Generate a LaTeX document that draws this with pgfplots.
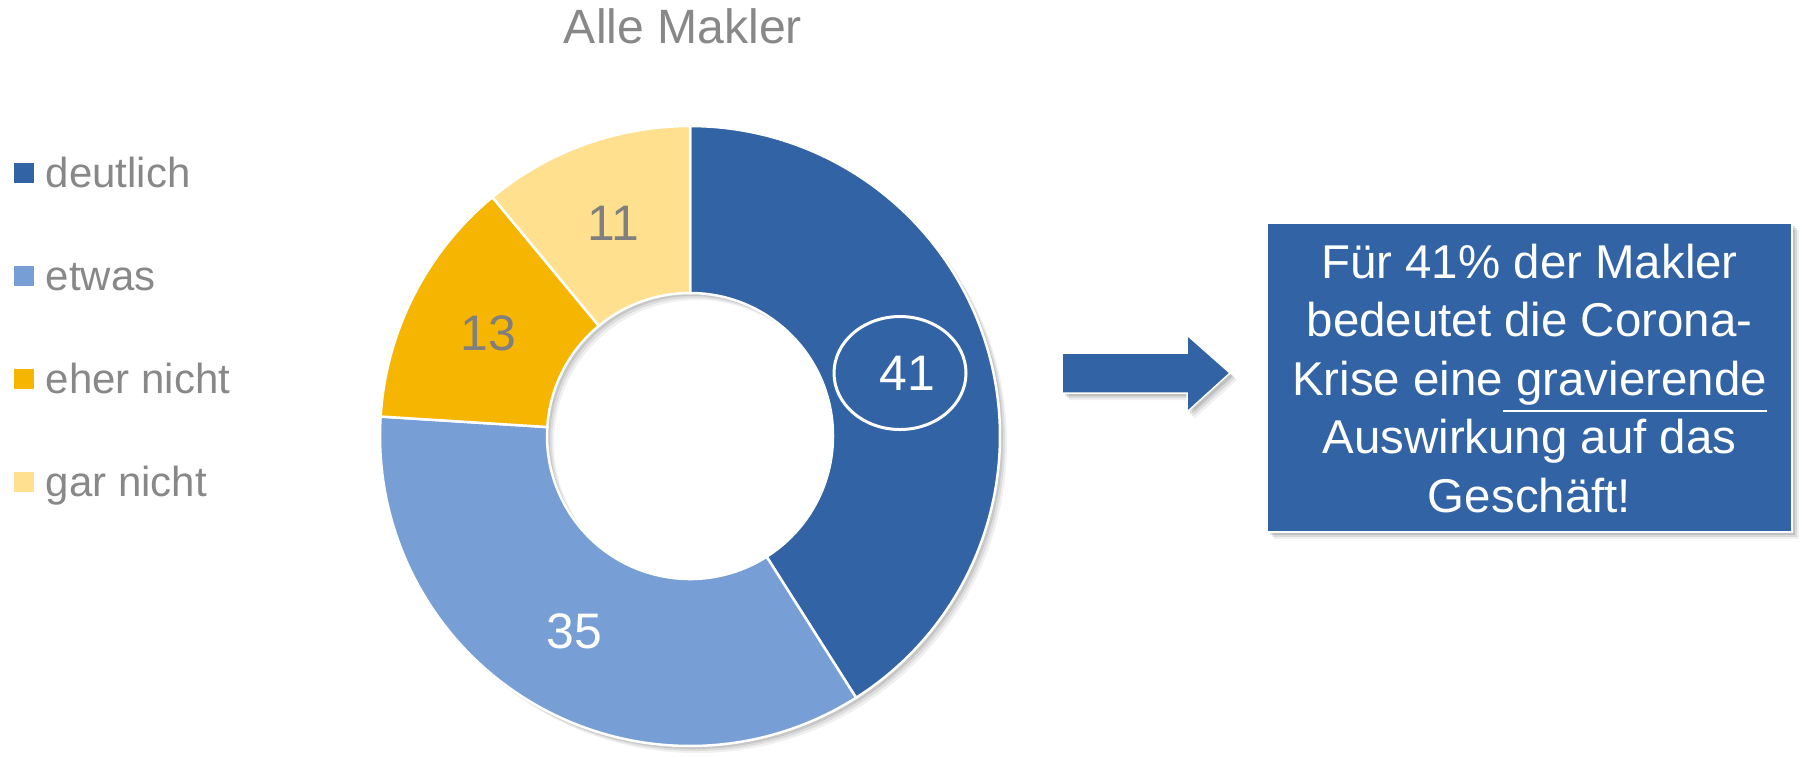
\documentclass[border=0pt]{standalone}
\usepackage{pgfplots}
\pgfplotsset{compat=1.18}
\usepackage{fontspec}
\setmainfont{Liberation Sans}
\definecolor{cA}{HTML}{3163A5}
\definecolor{cB}{HTML}{779FD6}
\definecolor{cC}{HTML}{F5B500}
\definecolor{cD}{HTML}{FEE08F}
\definecolor{ttl}{HTML}{888888}
\definecolor{lbl}{HTML}{7F7F7F}
% data (percent)
\def\vA{41}\def\vB{35}\def\vC{13}\def\vD{11}
\pgfmathsetmacro\aA{90}
\pgfmathsetmacro\aB{\aA-3.6*\vA}
\pgfmathsetmacro\aC{\aB-3.6*\vB}
\pgfmathsetmacro\aD{\aC-3.6*\vC}
\pgfmathsetmacro\aE{\aD-3.6*\vD}
\pgfmathsetmacro\mA{(\aA+\aB)/2}
\pgfmathsetmacro\mB{(\aB+\aC)/2}
\pgfmathsetmacro\mC{(\aC+\aD)/2}
\pgfmathsetmacro\mD{(\aD+\aE)/2}
\newcommand\slice[3]{%
  \addplot[fill=#1, draw=white, line width=0.25mm, domain=#3:#2, samples=120]
    ({310*cos(x)},{310*sin(x)}) -- ({143*cos(#2)},{143*sin(#2)})
    arc[start angle=#2, end angle=#3, radius=14.3mm] -- cycle;}
\newcommand\ringshadow[2]{%
  \fill[black, opacity=#2, even odd rule] (axis cs:#1,-#1) circle[radius=31mm] (axis cs:#1,-#1) circle[radius=14.3mm];}
\newcommand\thickul[1]{\vtop{\hbox{#1}\kern1.4pt\hrule height 0.6pt}}
\begin{document}
\begin{tikzpicture}[x=0.1mm,y=0.1mm]
% title
\node[anchor=base, text=ttl, font=\fontsize{13.7}{16}\selectfont, inner sep=0pt] at (683,714) {Alle Makler};
% legend
\foreach \c/\lab/\yb in {cA/deutlich/187, cB/etwas/290, cC/eher nicht/393, cD/gar nicht/496}{
  \fill[\c] (14,{757-\yb+4}) rectangle (34,{757-\yb+24});
  \node[anchor=base west, text=ttl, font=\fontsize{11.95}{14}\selectfont, inner sep=0pt] at (45,{757-\yb}) {\lab};
}
\begin{axis}[at={(69mm,32.1mm)}, anchor=origin, x=0.1mm, y=0.1mm,
  xmin=-320, xmax=320, ymin=-320, ymax=320, hide axis, clip=false]
% shadow of the ring
\ringshadow{3}{0.10}
\ringshadow{5}{0.08}
\ringshadow{7}{0.06}
\slice{cA}{\aA}{\aB}
\slice{cB}{\aB}{\aC}
\slice{cC}{\aC}{\aD}
\slice{cD}{\aD}{\aE}
\draw[white, line width=0.3mm] (axis cs:210,63) ellipse[x radius=6.6mm, y radius=5.65mm];
\node[text=white, font=\fontsize{14.2}{16}\selectfont] at (axis cs:{226.5*cos(\mA)},{226.5*sin(\mA)}) {41};
\node[text=white, font=\fontsize{14.2}{16}\selectfont] at (axis cs:{226.5*cos(\mB)},{226.5*sin(\mB)}) {35};
\node[text=lbl, font=\fontsize{14.2}{16}\selectfont] at (axis cs:{226.5*cos(\mC)},{226.5*sin(\mC)}) {13};
\node[text=lbl, font=\fontsize{14.2}{16}\selectfont] at (axis cs:{226.5*cos(\mD)},{226.5*sin(\mD)}) {11};
\end{axis}
% arrow
\foreach \o/\op in {3/0.12, 5/0.09, 7/0.06}{
  \fill[black, opacity=\op, shift={(\o,-\o)}] (1062,364) -- (1187,364) -- (1187,345) -- (1230,384) -- (1187,422) -- (1187,404) -- (1062,404) -- cycle;
}
\fill[cA, draw=white, line width=0.15mm] (1062,364) -- (1187,364) -- (1187,345) -- (1230,384) -- (1187,422) -- (1187,404) -- (1062,404) -- cycle;
% box
\foreach \o/\op in {3/0.12, 5/0.09, 7/0.06}{
  \fill[black, opacity=\op] (1267+\o,225-\o) rectangle (1792+\o,534-\o);
}
\fill[cA, draw=white, line width=0.2mm] (1267,225) rectangle (1792,534);
\begin{scope}[every node/.style={anchor=base, text=white, font=\fontsize{13.5}{16}\selectfont, inner sep=0pt}]
\node at (1529.5,479) {Für 41\% der Makler};
\node at (1529.5,420.4) {bedeutet die Corona-};
\node at (1529.5,362) {Krise eine\thickul{\ gravierende}};
\node at (1529.5,303.2) {Auswirkung auf das};
\node at (1529.5,244.4) {Geschäft!};
\end{scope}
\pgfresetboundingbox
\path (0,0) rectangle (1806,757);
\end{tikzpicture}
\end{document}
